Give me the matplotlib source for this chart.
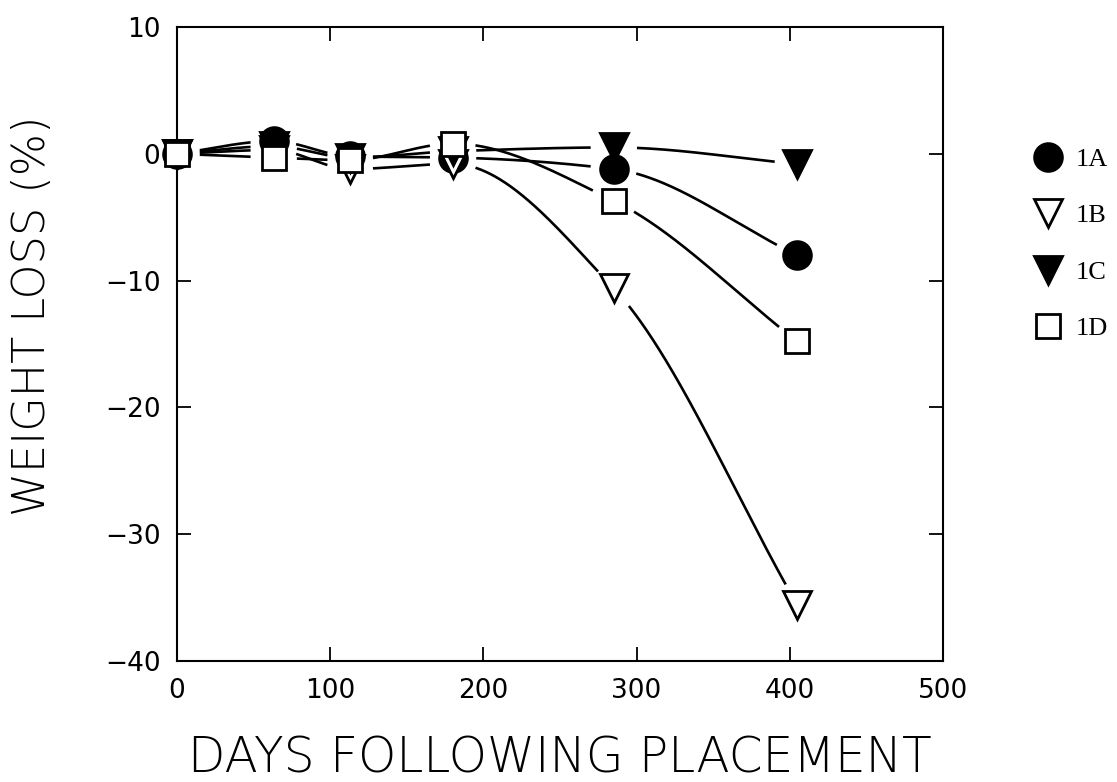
import numpy as np
import matplotlib
matplotlib.use("Agg")
import matplotlib.pyplot as plt

# data
days = [0, 63, 113, 180, 285, 405]
loss_1a = [0, 1.0, -0.2, -0.3, -1.2, -8.0]
loss_1b = [0, 0.3, -1.2, -0.8, -10.6, -35.6]
loss_1c = [0, 0.6, -0.3, 0.2, 0.5, -0.8]
loss_1d = [0, -0.3, -0.5, 0.8, -3.7, -14.8]

names = ["1A", "1B", "1C", "1D"]
series = [loss_1a, loss_1b, loss_1c, loss_1d]
markers = ["o", "v", "v", "s"]
fills = ["black", "white", "black", "white"]
msizes = [20, 20, 20, 17]


def pchip(x, y, xs):
    # shape preserving cubic through the points, just for the drawn curve
    x = np.asarray(x, float)
    y = np.asarray(y, float)
    h = np.diff(x)
    d = np.diff(y) / h
    m = np.zeros_like(y)
    for k in range(1, len(x) - 1):
        if d[k - 1] * d[k] > 0:
            w1 = 2 * h[k] + h[k - 1]
            w2 = h[k] + 2 * h[k - 1]
            m[k] = (w1 + w2) / (w1 / d[k - 1] + w2 / d[k])
    m[0] = d[0]
    m[-1] = d[-1]
    idx = np.clip(np.searchsorted(x, xs) - 1, 0, len(x) - 2)
    t = (xs - x[idx]) / h[idx]
    h00 = 2 * t**3 - 3 * t**2 + 1
    h10 = t**3 - 2 * t**2 + t
    h01 = -2 * t**3 + 3 * t**2
    h11 = t**3 - t**2
    return h00 * y[idx] + h10 * h[idx] * m[idx] + h01 * y[idx + 1] + h11 * h[idx] * m[idx + 1]


fig = plt.figure(figsize=(11.17, 7.82), dpi=100)
ax = fig.add_axes([0.1585, 0.1547, 0.6857, 0.8108])
ax.set_xlim(0, 500)
ax.set_ylim(-40, 10)

# curves with gaps around the symbols
xs = np.linspace(0, 405, 800)
for vals in series:
    ys = pchip(days, vals, xs)
    pix = ax.transData.transform(np.column_stack([xs, ys]))
    pts = ax.transData.transform(np.column_stack([days, vals]))
    near = np.zeros(len(xs), bool)
    for p in pts:
        near |= np.hypot(pix[:, 0] - p[0], pix[:, 1] - p[1]) < 24
    yy = np.where(near, np.nan, ys)
    ax.plot(xs, yy, color="black", lw=1.9)

handles = []
for name, vals, mk, fc, ms in zip(names, series, markers, fills, msizes):
    h, = ax.plot(days, vals, linestyle="none", marker=mk, ms=ms,
                 mfc=fc, mec="black", mew=2, label=name, zorder=3,
                 clip_on=False)
    handles.append(h)

ax.set_xticks([0, 100, 200, 300, 400, 500])
ax.set_yticks([-40, -30, -20, -10, 0, 10])
ax.set_yticklabels(["\u221240", "\u221230", "\u221220", "\u221210", "0", "10"])
ax.tick_params(direction="in", length=10, width=1.3, top=True, right=True,
               labelsize=19, pad=12)
for s in ax.spines.values():
    s.set_linewidth(1.5)

ax.set_xlabel("DAYS FOLLOWING PLACEMENT", fontsize=35, fontweight="light",
              labelpad=22)
ax.set_ylabel("WEIGHT LOSS (%)", fontsize=32, fontweight="light")
ax.yaxis.set_label_coords(-0.16, 0.545)

fig.legend(handles=handles, loc="upper left", bbox_to_anchor=(0.917, 0.825),
           frameon=False, numpoints=1, handlelength=1.0, handletextpad=0.55,
           labelspacing=1.25, borderaxespad=0,
           prop={"family": "Liberation Serif", "size": 19})

fig.savefig("out.png", dpi=100)
